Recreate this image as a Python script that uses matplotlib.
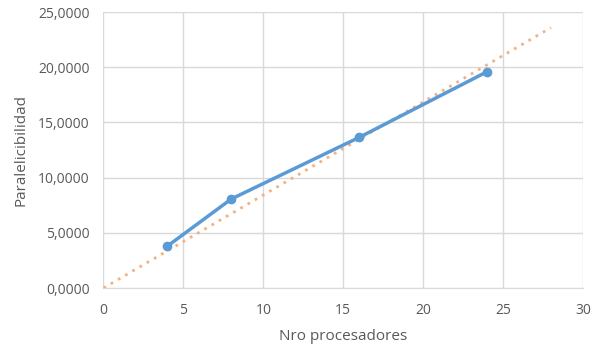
import numpy as np
import matplotlib
matplotlib.use("Agg")
import matplotlib.pyplot as plt
from matplotlib.ticker import FuncFormatter

# data
procesadores = [4, 8, 16, 24]
paralelicibilidad = [3.8, 8.07, 13.65, 19.6]

# linear trend through the origin, projected to 28
x = np.array(procesadores, dtype=float)
y = np.array(paralelicibilidad)
slope = np.sum(x * y) / np.sum(x * x)
trend_x = np.array([0, 28])
trend_y = slope * trend_x

text_color = "#595959"
plt.rcParams["font.family"] = ["Open Sans", "DejaVu Sans"]

fig = plt.figure(figsize=(6, 3.47), dpi=100)
ax = fig.add_axes([0.1725, 0.170, 0.799, 0.795])

ax.plot(trend_x, trend_y, color="#F4B183", linestyle=(0, (1, 2.0)),
        linewidth=2, zorder=2)
ax.plot(procesadores, paralelicibilidad, color="#5B9BD5", linewidth=2.5,
        marker="o", markersize=6, zorder=3)

ax.set_xlim(0, 30)
ax.set_ylim(0, 25)
ax.set_xticks(range(0, 31, 5))
ax.set_yticks(range(0, 26, 5))
ax.yaxis.set_major_formatter(FuncFormatter(lambda v, p: f"{v:.4f}".replace(".", ",")))

ax.grid(True, color="#D9D9D9", linewidth=1)
ax.set_axisbelow(True)
for side in ["top", "right", "left"]:
    ax.spines[side].set_visible(False)
ax.spines["bottom"].set_color("#D9D9D9")
ax.tick_params(length=0, labelsize=10, colors=text_color)
ax.tick_params(axis="x", pad=11)
ax.tick_params(axis="y", pad=10)

ax.set_xlabel("Nro procesadores", fontsize=11, color=text_color, labelpad=8)
ax.set_ylabel("Paralelicibilidad", fontsize=11, color=text_color, labelpad=7)

fig.savefig("out.png", dpi=100)
